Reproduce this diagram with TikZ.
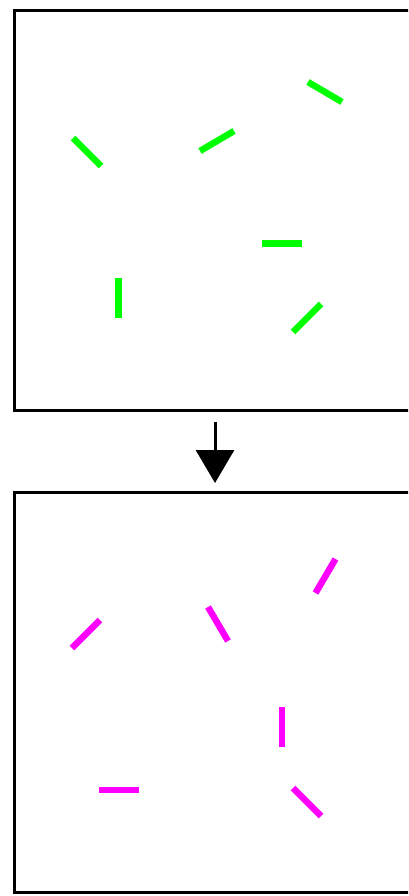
\documentclass[tikz,border=0pt]{standalone}
\usetikzlibrary{arrows.meta}
\definecolor{vert}{HTML}{00FF00}
\definecolor{rose}{HTML}{FF00FF}

\begin{document}
\begin{tikzpicture}[x=1pt, y=-1pt,
  cadre/.style={draw, line width=3pt, minimum width=402pt, minimum height=400pt, inner sep=0pt, outer sep=0pt, anchor=north west},
  tige/.style={line width=6.5pt}]

\useasboundingbox (0,0) rectangle (408,896);
\clip (0,0) rectangle (408,896);

% Cadres
\node[cadre] (avant) at (14,10.5) {};
\node[cadre] (apres) at (14,492.5) {};

% Fleche entre les cadres
\draw[-{Triangle[width=38pt,length=33pt]}, line width=3pt, shorten <=11.5pt, shorten >=9.5pt] (avant.south) -- (apres.north);

% Tiges avant (vert)
\draw[tige, vert] (73,138) -- (101,166);
\draw[tige, vert] (200,151) -- (234,131);
\draw[tige, vert] (308,82) -- (342,102);
\draw[tige, vert] (262,243.5) -- (302,243.5);
\draw[tige, vert] (118.5,278) -- (118.5,318);
\draw[tige, vert] (293,332) -- (321,304);

% Tiges apres (magenta)
\draw[tige, rose] (72,648) -- (100,620);
\draw[tige, rose] (208,607) -- (228,641);
\draw[tige, rose] (315.5,593) -- (335.5,559);
\draw[tige, rose] (282,707) -- (282,747);
\draw[tige, rose] (98.5,790) -- (138.5,790);
\draw[tige, rose] (293,788) -- (321,816);

\end{tikzpicture}
\end{document}
